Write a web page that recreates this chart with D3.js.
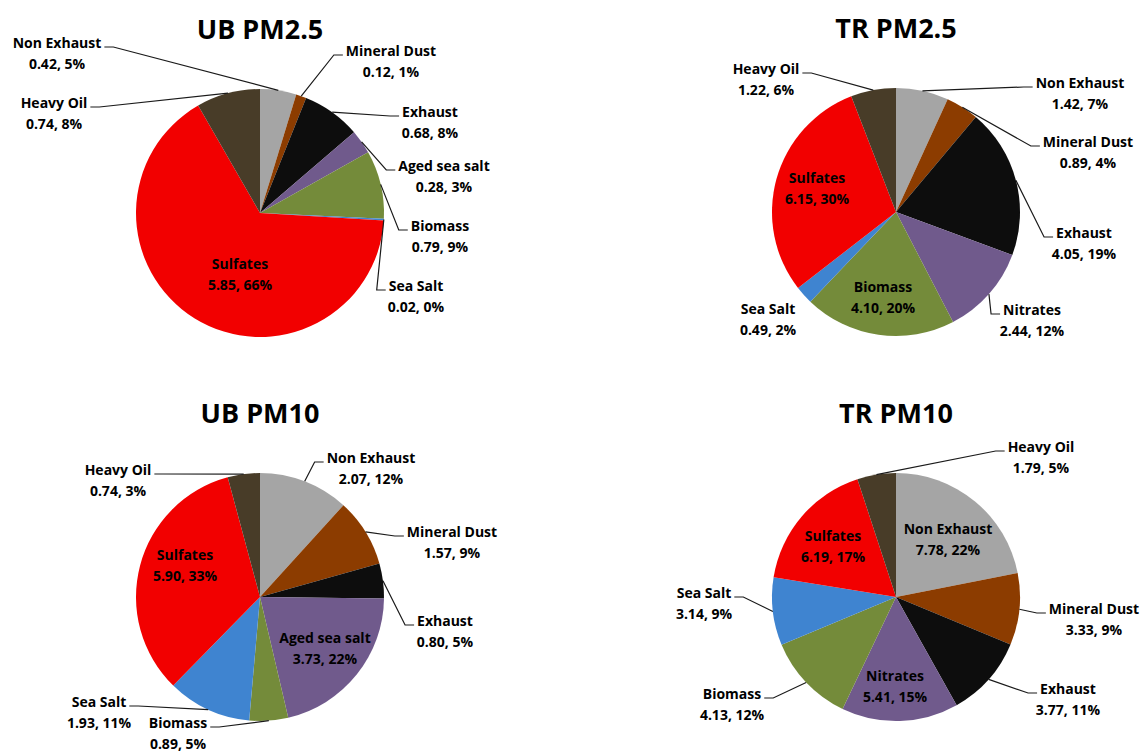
<!DOCTYPE html>
<html>
<head>
<meta charset="utf-8">
<script src="https://cdn.jsdelivr.net/npm/d3@7/dist/d3.min.js"></script>
<style>
  body { margin: 0; background: #ffffff; }
</style>
</head>
<body>
<script>
// source categories, clockwise from 12 o'clock
const ubPm25Names = ["Non Exhaust", "Mineral Dust", "Exhaust", "Aged sea salt", "Biomass", "Sea Salt", "Sulfates", "Heavy Oil"];
const ubPm25Values = [0.42, 0.12, 0.68, 0.28, 0.79, 0.02, 5.85, 0.74];
const ubPm25Pct = [5, 1, 8, 3, 9, 0, 66, 8];

const trPm25Names = ["Non Exhaust", "Mineral Dust", "Exhaust", "Nitrates", "Biomass", "Sea Salt", "Sulfates", "Heavy Oil"];
const trPm25Values = [1.42, 0.89, 4.05, 2.44, 4.10, 0.49, 6.15, 1.22];
const trPm25Pct = [7, 4, 19, 12, 20, 2, 30, 6];

const ubPm10Names = ["Non Exhaust", "Mineral Dust", "Exhaust", "Aged sea salt", "Biomass", "Sea Salt", "Sulfates", "Heavy Oil"];
const ubPm10Values = [2.07, 1.57, 0.80, 3.73, 0.89, 1.93, 5.90, 0.74];
const ubPm10Pct = [12, 9, 5, 22, 5, 11, 33, 3];

const trPm10Names = ["Non Exhaust", "Mineral Dust", "Exhaust", "Nitrates", "Biomass", "Sea Salt", "Sulfates", "Heavy Oil"];
const trPm10Values = [7.78, 3.33, 3.77, 5.41, 4.13, 3.14, 6.19, 1.79];
const trPm10Pct = [22, 9, 11, 15, 12, 9, 17, 5];

const sourceColors = {
  "Non Exhaust": "#a5a5a5",
  "Mineral Dust": "#8c3c00",
  "Exhaust": "#0d0d0d",
  "Aged sea salt": "#705a8c",
  "Nitrates": "#705a8c",
  "Biomass": "#748b3a",
  "Sea Salt": "#3f84d0",
  "Sulfates": "#f20000",
  "Heavy Oil": "#483c28"
};

// label placement: offset of first text line from pie centre, and leader side
// "in" = inside the slice, "none" = no leader, "L"/"R" = label left/right of pie
const ubPm25Labels = [[-203, -170, "L"], [131, -162, "R"], [170, -101, "R"], [184, -47, "R"], [180, 13, "R"], [156, 73, "R"], [-20, 51, "in"], [-206, -110, "L"]];
const trPm25Labels = [[184, -129, "R"], [192, -70, "R"], [188, 21, "R"], [136, 98, "R"], [-13, 75, "in"], [-128, 97, "none"], [-79, -34, "in"], [-130, -143, "L"]];
const ubPm10Labels = [[111, -139, "R"], [192, -65, "R"], [185, 24, "R"], [65, 41, "in"], [-82, 126, "L"], [-161, 105, "L"], [-75, -42, "in"], [-142, -127, "L"]];
const trPm10Labels = [[52, -68, "in"], [198, 12, "R"], [172, 92, "R"], [-1, 79, "in"], [-164, 97, "L"], [-192, -4, "L"], [-63, -61, "in"], [145, -150, "R"]];

const width = 1147;
const height = 753;
const radius = 124;
const font = "'Open Sans', 'DejaVu Sans', sans-serif";

const svg = d3.select("body").append("svg")
  .attr("width", width)
  .attr("height", height)
  .style("font-family", font);

const fmt = d3.format(".2f");

function drawPie({ title, names, values, pct, labels, cx, cy }) {
  const data = names.map((n, i) => ({ name: n, value: values[i], pct: pct[i], layout: labels[i] }));

  const pie = d3.pie()
    .sort(null)
    .value(d => d.value);

  const arc = d3.arc()
    .innerRadius(0)
    .outerRadius(radius);

  const edge = d3.arc()
    .innerRadius(radius)
    .outerRadius(radius);

  const g = svg.append("g")
    .attr("transform", `translate(${cx},${cy})`);

  const arcs = pie(data);

  g.selectAll("path.slice")
    .data(arcs)
    .join("path")
    .attr("class", "slice")
    .attr("d", arc)
    .attr("fill", d => sourceColors[d.data.name]);

  svg.append("text")
    .attr("x", cx)
    .attr("y", cy - 174)
    .attr("text-anchor", "middle")
    .attr("fill", "#000")
    .style("font-size", "27px")
    .style("font-weight", "700")
    .text(title);

  const lab = g.append("g");

  arcs.forEach(d => {
    const [lx, ly, side] = d.data.layout;
    const t = lab.append("text")
      .attr("text-anchor", "middle")
      .attr("fill", "#000")
      .style("font-size", "14px")
      .style("font-weight", "700");
    const l1 = t.append("tspan")
      .attr("x", lx)
      .attr("y", ly + 5)
      .text(d.data.name);
    t.append("tspan")
      .attr("x", lx)
      .attr("y", ly + 26)
      .text(`${fmt(d.data.value)}, ${d.data.pct}%`);

    if (side === "L" || side === "R") {
      const w = l1.node().getComputedTextLength();
      const [px, py] = edge.centroid(d);
      const ex = side === "R" ? lx - w / 2 - 3 : lx + w / 2 + 3;
      const ey = ly + 4;
      const bx = side === "R" ? ex - 9 : ex + 9;
      lab.insert("polyline", "text")
        .attr("points", [[px, py], [bx, ey], [ex, ey]].map(p => p.join(",")).join(" "))
        .attr("fill", "none")
        .attr("stroke", "#1a1a1a")
        .attr("stroke-width", 1.2);
    }
  });
}

drawPie({ title: "UB PM2.5", names: ubPm25Names, values: ubPm25Values, pct: ubPm25Pct, labels: ubPm25Labels, cx: 260, cy: 213 });
drawPie({ title: "TR PM2.5", names: trPm25Names, values: trPm25Values, pct: trPm25Pct, labels: trPm25Labels, cx: 896, cy: 212 });
drawPie({ title: "UB PM10", names: ubPm10Names, values: ubPm10Values, pct: ubPm10Pct, labels: ubPm10Labels, cx: 260, cy: 597 });
drawPie({ title: "TR PM10", names: trPm10Names, values: trPm10Values, pct: trPm10Pct, labels: trPm10Labels, cx: 896, cy: 597 });
</script>
</body>
</html>
